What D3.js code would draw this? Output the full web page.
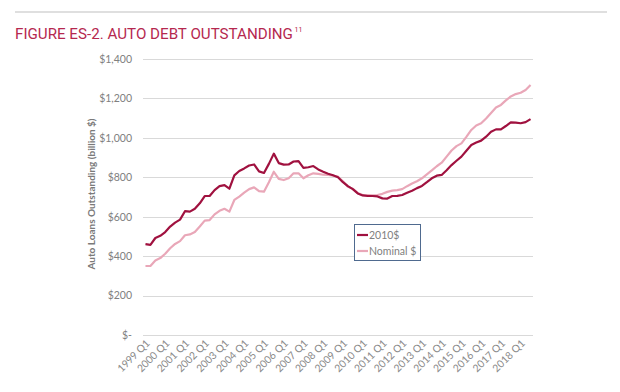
<!DOCTYPE html>
<html><head><meta charset="utf-8">
<script src="https://cdn.jsdelivr.net/npm/d3@7"></script>
<style>body{margin:0;background:#fff}svg{display:block}</style>
</head><body>
<script>
const years = d3.range(1999, 2019);
const quarters = [];
years.forEach(y => [1,2,3,4].forEach(q => { if (!(y === 2018 && q === 4)) quarters.push(y + " Q" + q); }));
const tickLabels = years.map(y => y + " Q1");
const real2010 = [461,457,492,503,522,550,570,585,628,626,640,668,705,705,735,755,760,742,810,832,
  845,860,865,830,822,868,920,872,864,865,880,882,848,851,857,840,828,818,810,800,
  775,755,740,718,708,705,705,703,693,692,705,706,710,722,732,745,756,775,795,808,
  812,836,862,884,905,935,964,976,986,1006,1031,1043,1043,1060,1079,1077,1074,1080,1095];
const nominal = [350,350,378,390,412,440,462,476,506,510,522,550,580,583,612,630,640,626,685,702,
  722,740,749,730,727,775,828,792,786,795,820,820,795,810,820,817,813,812,808,803,
  780,752,742,720,710,710,708,710,716,726,732,735,740,755,768,780,795,815,835,856,
  874,905,936,958,972,1005,1040,1063,1074,1098,1126,1154,1167,1190,1210,1222,1229,1243,1268];
const yTicks = [0,200,400,600,800,1000,1200,1400];
const seriesNames = ["2010$", "Nominal $"];
const colors = ["#a0113f", "#e9a7b8"];

const W = 620, H = 392;
const svg = d3.select("body").append("svg").attr("width", W).attr("height", H);

svg.append("line").attr("x1", 15).attr("x2", 607).attr("y1", 12).attr("y2", 12)
  .attr("stroke", "#d4d4d4").attr("stroke-width", 1.5);
const title = svg.append("text").attr("x", 0).attr("y", 0)
  .attr("font-family", "Roboto, sans-serif").attr("font-size", 15.5).attr("fill", "#b5284f")
  .text("FIGURE ES-2. AUTO DEBT OUTSTANDING");
const tlen = title.node().getComputedTextLength() || 279;
title.attr("transform", `translate(15,39) scale(${Math.min(1, 278 / tlen)},1)`);
svg.append("text").attr("x", 294.5).attr("y", 32)
  .attr("font-family", "Roboto, sans-serif").attr("font-size", 7).attr("fill", "#b5284f").text("11");

const x = d3.scaleBand().domain(quarters).range([143, 533]);
const y = d3.scaleLinear().domain([0, 1400]).range([335, 59]);

const grid = svg.append("g");
grid.selectAll("line").data(yTicks).join("line")
  .attr("x1", 143).attr("x2", 533)
  .attr("y1", d => Math.round(y(d)) + 0.5).attr("y2", d => Math.round(y(d)) + 0.5)
  .attr("stroke", "#d9d9d9").attr("stroke-width", 1);

const fmt = d => d === 0 ? "$-" : "$" + d3.format(",")(d);
const yAxis = svg.append("g").attr("transform", "translate(143,0)")
  .call(d3.axisLeft(y).tickValues(yTicks).tickFormat(fmt).tickSize(0).tickPadding(11));
yAxis.select(".domain").remove();
yAxis.selectAll("text").attr("font-family", "Lato, sans-serif").attr("font-size", 10.5).attr("fill", "#808080");

const xAxis = svg.append("g").attr("transform", "translate(0,335)")
  .call(d3.axisBottom(x).tickValues(tickLabels).tickSize(0).tickPadding(0));
xAxis.select(".domain").remove();
xAxis.selectAll("text")
  .attr("font-family", "Lato, sans-serif").attr("font-size", 10.3).attr("fill", "#8a8a8a")
  .attr("text-anchor", "end").attr("dy", 0)
  .attr("transform", "translate(5,9) rotate(-45)");

svg.append("text").attr("transform", "translate(95,194) rotate(-90)")
  .attr("text-anchor", "middle").attr("font-family", "Lato, sans-serif").attr("font-weight", "bold")
  .attr("font-size", 10).attr("fill", "#7a7a7a").text("Auto Loans Outstanding (billion $)");

const line = d3.line().x((d, i) => x(quarters[i]) + x.bandwidth() / 2).y(d => y(d));
[nominal, real2010].forEach((s, k) => {
  svg.append("path").datum(s).attr("d", line).attr("fill", "none")
    .attr("stroke", k === 0 ? colors[1] : colors[0]).attr("stroke-width", 2.2)
    .attr("stroke-linejoin", "round");
});

const lg = svg.append("g");
lg.append("rect").attr("x", 354.5).attr("y", 224.5).attr("width", 66).attr("height", 36)
  .attr("fill", "#fff").attr("stroke", "#4f6a8f").attr("stroke-width", 1);
seriesNames.forEach((n, i) => {
  const yy = 235 + i * 16;
  lg.append("line").attr("x1", 357).attr("x2", 368).attr("y1", yy).attr("y2", yy)
    .attr("stroke", colors[i]).attr("stroke-width", 2.2);
  lg.append("text").attr("x", 369).attr("y", yy + 3.5).attr("font-family", "Lato, sans-serif")
    .attr("font-size", 10.5).attr("fill", "#808080").text(n);
});
</script>
</body></html>
